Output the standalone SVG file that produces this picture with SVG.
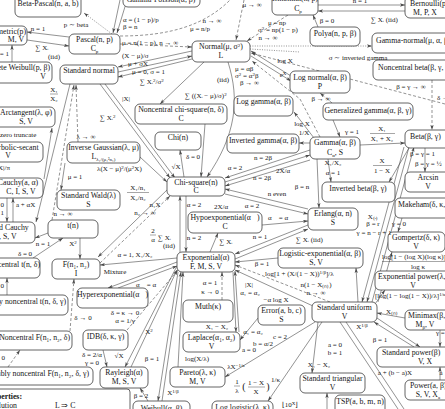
<svg xmlns="http://www.w3.org/2000/svg" width="445" height="409" viewBox="0 0 445 409">
<style>
text{font-family:"Liberation Serif","Times New Roman",serif;fill:#151515}
.n rect{fill:#fff;stroke:#3c3c3c;stroke-width:.8}
.n text{font-size:7.8px;text-anchor:middle}
.n text.s{text-anchor:start}
.n text.e{text-anchor:end}
#connectors path{fill:none;stroke:#4a4a4a;stroke-width:.6;marker-end:url(#ah)}
#connectors path.nm{marker-end:none}
#connectors path.d{stroke-dasharray:3 2}
#connectors path.o{stroke-dasharray:1 1.4}
#labels text{font-size:7px;text-anchor:middle}
#labels text.s{text-anchor:start}
#labels text.e{text-anchor:end}
#labels line{stroke:#222;stroke-width:.4}
.sp{font-size:5px}
.b{font-weight:bold}
</style>
<defs>
<marker id="ah" viewBox="0 0 6 4" refX="6" refY="2" markerWidth="5" markerHeight="3.6" orient="auto" markerUnits="userSpaceOnUse"><path d="M0,0 L6,2 L0,4 L1.5,2 z" fill="#4a4a4a"/></marker>
</defs>

<g id="connectors">
<path class="o" d="M112,34 L84,13"/>
<path d="M120,0 L113,33"/>
<path d="M127,0 L117,33"/>
<path class="d nm" d="M120,36 C170,36 205,25 230,0"/>
<path class="d" d="M244,0 L236,40"/>
<path class="d" d="M288,15 L247,41"/>
<path class="d" d="M120,44 L192,47"/>
<path d="M318,5 L405,5"/>
<path d="M405,11 L318,11"/>
<path d="M318,27 L313,15"/>
<path class="o" d="M250,46 L372,46"/>
<path class="o nm" d="M250,49 L300,52"/>
<path class="d" d="M445,104 L251,53"/>
<path d="M192,51 L118,67"/>
<path d="M118,72 L192,56"/>
<path d="M192,59 L118,77"/>
<path d="M204,62 L160,104"/>
<path d="M228,62 C240,100 236,135 207,177"/>
<path d="M100,84 L170,178"/>
<path d="M105,84 L175,178"/>
<path d="M70,84 L36,222"/>
<path class="d" d="M78,142 L76,85"/>
<path class="d" d="M52,220 L74,85"/>
<path d="M44,179 L52,128"/>
<path d="M12,62 L12,45"/>
<path d="M69,37 L27,32"/>
<path d="M27,40 L69,46"/>
<path d="M7,198 L7,222"/>
<path d="M13,222 L13,198"/>
<path d="M65,163 L61,190"/>
<path d="M140,157 L167,182"/>
<path d="M48,233 L35,238"/>
<path d="M33,258 L63,238"/>
<path d="M80,238 L80,259"/>
<path d="M168,189 L98,257"/>
<path class="d" d="M100,263 L170,196"/>
<path d="M177,258 L100,265"/>
<path d="M180,252 L180,196"/>
<path d="M186,196 L186,252"/>
<path d="M184,177 L180,150"/>
<path d="M205,124 L201,177"/>
<path d="M210,252 L218,233"/>
<path d="M262,225 L308,221"/>
<path d="M308,225 L235,254"/>
<path d="M235,259 L308,229"/>
<path d="M308,209 L225,189"/>
<path d="M225,194 L308,214"/>
<path d="M310,150 L225,178"/>
<path d="M225,182 L310,155"/>
<path d="M310,160 L225,186"/>
<path d="M311,143 L299,143"/>
<path d="M314,138 L294,112"/>
<path class="d" d="M320,137 L300,99 L252,61"/>
<path class="d" d="M332,103 L320,93"/>
<path d="M291,76 L251,51"/>
<path d="M251,56 L291,81"/>
<path d="M333,120 L340,137"/>
<path d="M360,145 L405,143"/>
<path d="M409,148 L389,182"/>
<path d="M328,159 L331,182"/>
<path d="M317,159 L319,208"/>
<path d="M425,148 L425,172"/>
<path class="d" d="M432,80 L432,130"/>
<path d="M404,147 L362,302"/>
<path d="M409,147 L367,302"/>
<path d="M372,302 L414,147"/>
<path d="M402,218 L398,232"/>
<path d="M378,302 L392,252"/>
<path d="M375,304 L385,290"/>
<path d="M278,258 L235,262"/>
<path d="M358,302 L356,268"/>
<path class="d" d="M330,302 L235,265"/>
<path d="M313,306 L235,270"/>
<path d="M405,318 L377,313"/>
<path d="M377,318 L420,347"/>
<path d="M414,347 L374,322"/>
<path d="M440,330 L440,347"/>
<path d="M440,380 L440,367"/>
<path d="M318,322 L312,373"/>
<path class="nm" d="M340,322 L398,409"/>
<path class="nm" d="M346,322 L404,409"/>
<path d="M322,322 L268,401"/>
<path d="M315,322 L225,377"/>
<path d="M258,318 L240,340"/>
<path d="M233,272 L236,332"/>
<path d="M239,332 L235,271"/>
<path class="d" d="M222,300 L222,272"/>
<path d="M178,272 L158,401"/>
<path d="M162,401 L181,272"/>
<path d="M178,367 L183,272"/>
<path d="M177,266 L125,367"/>
<path d="M131,367 L177,270"/>
<path d="M103,350 L107,367"/>
<path class="d" d="M127,330 L178,270"/>
<path d="M177,262 L108,288"/>
<path d="M118,288 L177,266"/>
<path class="d" d="M70,331 L74,279"/>
<path d="M7,295 L7,278"/>
<path class="d" d="M8,367 L20,350"/>
<path d="M327,409 L327,393"/>
<path d="M148,401 L140,388"/>
</g>

<g id="beta-pascal" class="n"><rect x="15" y="-6" width="66" height="23" rx="5"/><text x="48" y="6">Beta-Pascal(n, a, b)</text></g>
<g id="gamma-poisson" class="n"><rect x="123" y="-12" width="77" height="19" rx="5"/><text x="161" y="2">Gamma-Poisson(α, β)</text></g>
<g id="binomial" class="n"><rect x="272" y="-10" width="46" height="25" rx="5"/><text x="295" y="1">Binomial(n, p)</text><text x="298" y="11">C<tspan class="sp" dy="1.5">p</tspan></text></g>
<g id="bernoulli" class="n"><rect x="405" y="-4" width="55" height="22" rx="5"/><text class="s" x="410" y="6">Bernoulli(p)</text><text x="425" y="15">M, P, X</text></g>
<g id="geometric" class="n"><rect x="-25" y="26" width="52" height="19" rx="5"/><text class="e" x="26" y="34">Geometric(p)</text><text x="16" y="42">M, V</text></g>
<g id="pascal" class="n"><rect x="69" y="34" width="51" height="20" rx="5"/><text x="94.5" y="42">Pascal(n, p)</text><text x="94.5" y="51">C<tspan class="sp" dy="1.5">p</tspan></text></g>
<g id="polya" class="n"><rect x="310" y="27" width="50" height="19" rx="5"/><text x="335" y="36">Polya(n, p, β)</text></g>
<g id="gamma-normal" class="n"><rect x="372" y="33" width="85" height="20" rx="5"/><text class="s" x="376" y="43">Gamma-normal(μ, α, β)</text></g>
<g id="normal" class="n"><rect x="192" y="41" width="58" height="21" rx="5"/><text x="221" y="49">Normal(μ, σ<tspan class="sp" dy="-2.5">2</tspan><tspan dy="2.5">)</tspan></text><text x="221" y="58">L</text></g>
<g id="noncentral-beta" class="n"><rect x="373" y="60" width="85" height="20" rx="5"/><text class="s" x="378" y="70">Noncentral beta(β, γ, δ)</text></g>
<g id="discrete-weibull" class="n"><rect x="-35" y="62" width="87" height="21" rx="5"/><text class="e" x="50" y="70">Discrete Weibull(p, β)</text><text x="43" y="79">V</text></g>
<g id="standard-normal" class="n"><rect x="60" y="65" width="58" height="19" rx="5"/><text x="89" y="73">Standard normal</text></g>
<g id="log-normal" class="n"><rect x="290" y="71" width="60" height="22" rx="5"/><text x="320" y="80">Log normal(α, β)</text><text x="320" y="89">P</text></g>
<g id="arctangent" class="n"><rect x="-5" y="107" width="60" height="20" rx="5"/><text x="26" y="115">Arctangent(λ, φ)</text><text x="26" y="124">S, V</text></g>
<g id="log-gamma" class="n"><rect x="234" y="96" width="59" height="20" rx="5"/><text x="263.5" y="104">Log gamma(α, β)</text></g>
<g id="noncentral-chi-square" class="n"><rect x="135" y="104" width="92" height="20" rx="5"/><text x="181" y="112">Noncentral chi-square(n, δ)</text><text x="181" y="121">C</text></g>
<g id="generalized-gamma" class="n"><rect x="323" y="103" width="90" height="17" rx="5"/><text x="368" y="113">Generalized gamma(α, β, γ)</text></g>
<g id="beta" class="n"><rect x="405" y="130" width="55" height="18" rx="5"/><text class="s" x="410" y="139">Beta(β, γ)</text></g>
<g id="chi" class="n"><rect x="155" y="132" width="46" height="18" rx="5"/><text x="178" y="139.5">Chi(n)</text></g>
<g id="inverted-gamma" class="n"><rect x="227" y="134" width="72" height="19" rx="5"/><text x="263" y="142.5">Inverted gamma(α, β)</text></g>
<g id="gamma" class="n"><rect x="310" y="137" width="50" height="22" rx="5"/><text x="335" y="145">Gamma(α, β)</text><text x="335" y="155">C<tspan class="sp" dy="1.5">α</tspan><tspan dy="-1.5">, S</tspan></text></g>
<g id="hyperbolic-secant" class="n"><rect x="-22" y="142" width="65" height="20" rx="5"/><text x="10" y="149.5">Hyperbolic-secant</text><text x="8" y="158">V</text></g>
<g id="inverse-gaussian" class="n"><rect x="67" y="142" width="73" height="21" rx="5"/><text x="103.5" y="150">Inverse Gaussian(λ, μ)</text><text x="103.5" y="159">L<tspan class="sp" dy="1.5">λ₁/(μ₁²n₁)</tspan></text></g>
<g id="arcsin" class="n"><rect x="405" y="172" width="50" height="20" rx="5"/><text x="428" y="180">Arcsin</text><text x="428" y="189">V</text></g>
<g id="cauchy" class="n"><rect x="-12" y="178" width="55" height="20" rx="5"/><text x="18" y="185">Cauchy(a, α)</text><text x="21" y="194">C, I, S, V</text></g>
<g id="chi-square" class="n"><rect x="167" y="177" width="58" height="19" rx="5"/><text x="196" y="184.5">Chi-square(n)</text><text x="196" y="193">C</text></g>
<g id="inverted-beta" class="n"><rect x="322" y="182" width="73" height="20" rx="5"/><text x="358" y="190.5">Inverted beta(β, γ)</text></g>
<g id="standard-wald" class="n"><rect x="57" y="190" width="63" height="20" rx="5"/><text x="88.5" y="198">Standard Wald(λ)</text><text x="88.5" y="207">S</text></g>
<g id="makeham" class="n"><rect x="395" y="198" width="60" height="20" rx="5"/><text class="s" x="398" y="207">Makeham(δ, κ, γ)</text></g>
<g id="erlang" class="n"><rect x="308" y="208" width="50" height="22" rx="5"/><text x="333" y="216">Erlang(α, n)</text><text x="333" y="225">S</text></g>
<g id="hypoexponential" class="n"><rect x="188" y="212" width="74" height="21" rx="5"/><text x="225" y="220">Hypoexponential(α⃗)</text><text x="225" y="229">C</text></g>
<g id="standard-cauchy" class="n"><rect x="-22" y="222" width="57" height="21" rx="5"/><text x="2" y="230">Standard Cauchy</text><text x="2" y="239">C, I, S, V</text></g>
<g id="t" class="n"><rect x="48" y="220" width="50" height="18" rx="5"/><text x="73" y="228">t(n)</text></g>
<g id="gompertz" class="n"><rect x="388" y="232" width="57" height="20" rx="5"/><text x="416" y="240">Gompertz(δ, κ)</text><text x="416" y="249">V</text></g>
<g id="logistic-exponential" class="n"><rect x="278" y="248" width="85" height="20" rx="5"/><text x="320" y="256">Logistic-exponential(α, β)</text><text x="316" y="265">S, V</text></g>
<g id="exponential" class="n"><rect x="177" y="252" width="58" height="20" rx="5"/><text x="206" y="260">Exponential(α)</text><text x="206" y="269">F, M, S, V</text></g>
<g id="noncentral-t" class="n"><rect x="-25" y="258" width="65" height="20" rx="5"/><text class="e" x="40" y="267">Noncentral t(n, δ)</text></g>
<g id="f" class="n"><rect x="52" y="259" width="48" height="20" rx="5"/><text x="76" y="267">F(n₁, n₂)</text><text x="76" y="276">I</text></g>
<g id="exponential-power" class="n"><rect x="375" y="271" width="80" height="19" rx="5"/><text class="s" x="378" y="279">Exponential power(λ, κ)</text><text x="413" y="288">V</text></g>
<g id="hyperexponential" class="n"><rect x="77" y="288" width="71" height="20" rx="5"/><text x="112.5" y="297">Hyperexponential(α⃗)</text></g>
<g id="doubly-noncentral-t" class="n"><rect x="-30" y="295" width="98" height="20" rx="5"/><text class="e" x="66" y="304">Doubly noncentral t(n, δ, γ)</text></g>
<g id="muth" class="n"><rect x="183" y="300" width="50" height="22" rx="5"/><text x="208" y="309">Muth(κ)</text></g>
<g id="standard-uniform" class="n"><rect x="312" y="302" width="65" height="20" rx="5"/><text x="344.5" y="310">Standard uniform</text><text x="344.5" y="319">V</text></g>
<g id="error" class="n"><rect x="258" y="305" width="47" height="20" rx="5"/><text x="281.5" y="313">Error(a, b, c)</text><text x="281.5" y="322">S</text></g>
<g id="minimax" class="n"><rect x="405" y="310" width="55" height="20" rx="5"/><text class="s" x="408" y="318">Minimax(β, γ)</text><text x="425" y="327">M<tspan class="sp" dy="1.5">β</tspan><tspan dy="-1.5">, V</tspan></text></g>
<g id="noncentral-f" class="n"><rect x="-30" y="331" width="102" height="19" rx="5"/><text class="e" x="70" y="340">Noncentral F(n₁, n₂, δ)</text></g>
<g id="idb" class="n"><rect x="83" y="330" width="45" height="20" rx="5"/><text x="105.5" y="339">IDB(δ, κ, γ)</text></g>
<g id="laplace" class="n"><rect x="183" y="332" width="57" height="20" rx="5"/><text x="211.5" y="340">Laplace(α₁, α₂)</text><text x="211.5" y="349">V</text></g>
<g id="standard-power" class="n"><rect x="377" y="347" width="75" height="20" rx="5"/><text class="s" x="382" y="355">Standard power(β)</text><text x="425" y="364">V, X</text></g>
<g id="rayleigh" class="n"><rect x="100" y="367" width="48" height="21" rx="5"/><text x="124" y="375">Rayleigh(α)</text><text x="124" y="384">M, S, V</text></g>
<g id="pareto" class="n"><rect x="170" y="367" width="55" height="20" rx="5"/><text x="197.5" y="375">Pareto(λ, κ)</text><text x="197.5" y="384">M, V</text></g>
<g id="doubly-noncentral-f" class="n"><rect x="-30" y="367" width="123" height="18" rx="5"/><text class="e" x="89" y="376">Doubly noncentral F(n₁, n₂, δ, γ)</text></g>
<g id="standard-triangular" class="n"><rect x="300" y="373" width="65" height="20" rx="5"/><text x="332.5" y="381">Standard triangular</text><text x="332.5" y="390">V</text></g>
<g id="power" class="n"><rect x="405" y="380" width="55" height="20" rx="5"/><text class="s" x="410" y="388">Power(a, β)</text><text x="428" y="397">S, V, X<tspan class="sp" dy="1.5">a</tspan></text></g>
<g id="tsp" class="n"><rect x="335" y="395" width="50" height="20" rx="5"/><text x="360" y="404">TSP(a, b, m, n)</text></g>
<g id="weibull" class="n"><rect x="133" y="401" width="57" height="18" rx="5"/><text x="161.5" y="411">Weibull(α, β)</text></g>
<g id="log-logistic" class="n"><rect x="212" y="401" width="61" height="18" rx="5"/><text x="242.5" y="410">Log logistic(λ, κ)</text></g>
<g id="properties" class="n"><rect x="-10" y="389" width="140" height="30" rx="3"/><text class="e b" x="22" y="399">Properties:</text><text class="e" x="17" y="408">Convolution</text><text class="s" x="55" y="408">L ⇒ C</text></g>

<g id="labels">
<text x="76" y="27">p ∼ beta</text>
<text x="38" y="31">n = 1</text>
<text x="42" y="50">∑ Xᵢ</text>
<text x="54" y="59">(iid)</text>
<text class="e" x="9" y="56">β = 1</text>
<text class="s" x="123" y="22">α = (1 − p)/p</text>
<text class="s" x="123" y="29">β = n</text>
<text x="212" y="23">n → ∞</text>
<text x="200" y="31">μ = n/p</text>
<text x="252" y="7">μ → ∞</text>
<text x="277" y="25">μ = np</text>
<text class="s" x="258" y="32">σ<tspan class="sp" dy="-2.5">2</tspan><tspan dy="2.5"> = np(1 − p)</tspan></text>
<text x="268" y="40">n → ∞</text>
<text x="360" y="3">n = 1</text>
<text class="s" x="371" y="22">∑ Xᵢ (iid)</text>
<text x="327" y="23">β = 0</text>
<text class="s" x="122" y="45">μ = n(1 − p), n → ∞</text>
<text x="358" y="60">σ ∼ inverted gamma</text>
<text class="s" x="122" y="58">(X − μ)/σ</text>
<text class="s" x="128" y="66">μ + σX</text>
<text class="s" x="132" y="74">μ = 0, σ = 1</text>
<text x="285" y="63">log X</text>
<text x="283" y="77">e<tspan class="sp" dy="-2.5">X</tspan></text>
<text class="s" x="235" y="71">μ = αβ</text>
<text class="s" x="235" y="78">σ<tspan class="sp" dy="-2.5">2</tspan><tspan dy="2.5"> = α</tspan><tspan class="sp" dy="-2.5">2</tspan><tspan dy="2.5">β</tspan></text>
<text class="s" x="240" y="85">β → ∞</text>
<text class="s" x="140" y="84">∑ Xᵢ<tspan class="sp" dy="-2.5">2</tspan><tspan dy="2.5">/σ</tspan><tspan class="sp" dy="-2.5">2</tspan></text>
<text x="223" y="82">(iid)</text>
<text class="s" x="185" y="98">∑ ((Xᵢ − μ)/σ)<tspan class="sp" dy="-2.5">2</tspan></text>
<text x="54" y="92">X₁</text><line x1="50" y1="94" x2="58" y2="94"/><text x="54" y="101">X₂</text>
<text x="126" y="101">|X|</text>
<text class="s" x="100" y="120">∑ Xᵢ<tspan class="sp" dy="-2.5">2</tspan></text>
<text x="411" y="89">β = γ → ∞</text>
<text class="s" x="437" y="100">δ → 0</text>
<text x="321" y="101">β → ∞</text>
<text x="302" y="126">log X</text>
<text x="304" y="135">1/X</text>
<text x="352" y="134">γ = 1</text>
<text x="382" y="131">X₁</text><line x1="370" y1="133.5" x2="395" y2="133.5"/><text x="382" y="141">X₁ + X₂</text>
<text x="86" y="139">λ → ∞</text>
<text class="s" x="0" y="137">zero truncate</text>
<text class="s" x="410" y="156">β = γ = 1</text>
<text class="s" x="415" y="166">β = γ = ½</text>
<text x="382" y="163">X</text><line x1="373" y1="165.5" x2="392" y2="165.5"/><text x="382" y="173">1 − X</text>
<text x="333" y="165">X₁/X₂</text>
<text x="333" y="175">α = 1</text>
<text class="e" x="10" y="170">|X|/π</text>
<text x="263" y="160">n = 2β</text>
<text x="235" y="170">α = 2</text>
<text x="283" y="173">2X/α</text>
<text x="262" y="180">n = 2β</text>
<text x="176" y="169">√X</text>
<text x="193" y="159">δ = 0</text>
<text class="s" x="97" y="171">λ(X − μ)<tspan class="sp" dy="-2.5">2</tspan><tspan dy="2.5">/(μ</tspan><tspan class="sp" dy="-2.5">2</tspan><tspan dy="2.5">X)</tspan></text>
<text x="75" y="179">μ = 1</text>
<text x="302" y="189">β = n</text>
<text x="138" y="190">X₁/n₁</text><line x1="127" y1="192.5" x2="149" y2="192.5"/><text x="138" y="200">X₂/n₂</text>
<text x="277" y="196">n even</text>
<text x="252" y="208">α = 2</text>
<text x="194" y="207">α = 2</text>
<text x="221" y="209">2X/α</text>
<text x="373" y="219">X₍ᵣ₎</text>
<text x="373" y="226">β = r</text>
<text x="374" y="235">γ = n − r + 1</text>
<text x="399" y="226">γ = 0</text>
<text x="63" y="216">n → ∞</text>
<text x="155" y="207">n₁X</text>
<text x="145" y="215">n₂ → ∞</text>
<text x="153" y="233">2</text><line x1="150" y1="235" x2="156" y2="235"/><text x="153" y="242">α</text>
<text class="s" x="158" y="240">∑ Xᵢ</text>
<text x="169" y="248">(iid)</text>
<text x="278" y="220">α⃗ = α</text>
<text x="260" y="239">n = 1</text>
<text x="226" y="244">∑ Xᵢ</text>
<text x="194" y="240">n = 2</text>
<text class="s" x="296" y="242">∑ Xᵢ (iid)</text>
<text x="43" y="246">n = 1</text>
<text x="73" y="246">X<tspan class="sp" dy="-2.5">2</tspan></text>
<text x="25" y="256">δ = 0</text>
<text x="135" y="257">α = 1, X₁/X₂</text>
<text class="s" x="382" y="259">log[1 − (log X)(log κ)]</text><line x1="382" y1="261.5" x2="445" y2="261.5"/><text x="418" y="269">log κ</text>
<text x="262" y="266">β = 1</text>
<text class="s" x="265" y="276">log[1 + (X/(1 − X))<tspan class="sp" dy="-2.5">1/β</tspan><tspan dy="2.5">]/λ</tspan></text>
<text x="115" y="274">Mixture</text>
<text x="146" y="287">α⃗ = α</text>
<text x="210" y="285">α = 1</text>
<text x="210" y="294">κ → 0</text>
<text x="249" y="287">|X|</text>
<text x="250" y="295">α₁ = α₂</text>
<text x="316" y="287">n(1 − X₍ₙ₎)</text>
<text x="316" y="295">n → ∞</text>
<text class="s" x="375" y="298">[log(1 − log(1 − X))/λ]<tspan class="sp" dy="-2.5">1/κ</tspan></text>
<text x="276" y="302">−α log X</text>
<text x="392" y="314">X₍ₙ₎</text>
<text x="125" y="315">δ = κ → 0</text>
<text x="125" y="323">α = 1/γ</text>
<text x="83" y="320">δ → 0</text>
<text x="217" y="329">X₁ − X₂</text>
<text x="362" y="329">X<tspan class="sp" dy="-2.5">1/β</tspan></text>
<text x="253" y="334">α₁ = α₂</text>
<text x="149" y="334">X<tspan class="sp" dy="-2.5">2</tspan></text>
<text class="s" x="436" y="335">γ = 1</text>
<text x="280" y="339">c = 2</text>
<text x="263" y="346">b = α/2</text>
<text x="249" y="352">a = 0</text>
<text x="380" y="342">β = 1</text>
<text x="335" y="347">a = 0</text>
<text x="335" y="355">b = 1</text>
<text x="92" y="357">δ = 2/α</text>
<text x="92" y="365">γ = 0</text>
<text x="119" y="358">√X</text>
<text class="s" x="185" y="361">log(X/λ)</text>
<text x="152" y="361">β = 1</text>
<text class="e" x="5" y="360">γ = 0</text>
<text x="236" y="369">λX<tspan class="sp" dy="-2.5">−1/κ</tspan></text>
<text x="319" y="367">X₁ − X₂</text>
<text x="395" y="375">a + (b − a)X</text>
<text x="441" y="375">a</text>
<text x="237" y="384">1</text><line x1="234" y1="386" x2="240" y2="386"/><text x="237" y="393">λ</text>
<text x="244" y="390" style="font-size:10px">(</text>
<text x="256" y="385">1 − X</text><line x1="248" y1="387" x2="265" y2="387"/><text x="256" y="394">X</text>
<text x="268" y="390" style="font-size:10px">)</text>
<text class="s sp" x="271" y="382">1/κ</text>
<text x="173" y="395">X<tspan class="sp" dy="-2.5">1/β</tspan></text>
<text x="141" y="398">β = 2</text>
<text x="290" y="407">⌊10<tspan class="sp" dy="-2.5">X</tspan><tspan dy="2.5">⌋</tspan></text>
<text class="e" x="4" y="288">γ = 0</text>
<text class="e" x="4" y="207">a = 0</text>
<text class="e" x="4" y="215">α = 1</text>
<text class="s" x="16" y="207">a + αX</text>
</g>
</svg>
